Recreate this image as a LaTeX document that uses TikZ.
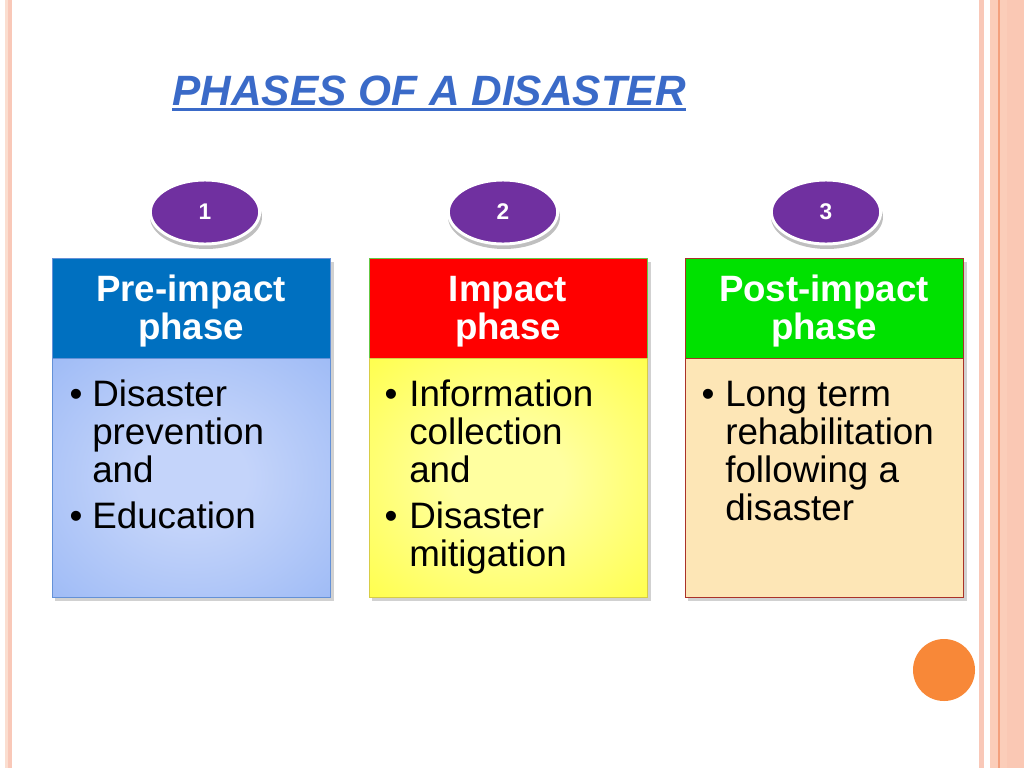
\documentclass[tikz,border=0pt]{standalone}
\usepackage{fontspec}
\setmainfont{Liberation Sans}
\usetikzlibrary{shapes.geometric}
\definecolor{titleblue}{RGB}{58,106,200}
\definecolor{hblue}{RGB}{0,112,192}
\definecolor{bblueborder}{RGB}{100,145,215}
\definecolor{bluein}{RGB}{196,212,250}
\definecolor{bluemid}{RGB}{160,188,246}
\definecolor{blueout}{RGB}{112,152,236}
\definecolor{hred}{RGB}{255,0,0}
\definecolor{greenborder}{RGB}{100,200,70}
\definecolor{yellowin}{RGB}{255,255,160}
\definecolor{yellowmid}{RGB}{255,255,80}
\definecolor{yellowout}{RGB}{246,240,25}
\definecolor{yborder}{RGB}{215,205,70}
\definecolor{hgreen}{RGB}{0,225,0}
\definecolor{darkred}{RGB}{170,50,40}
\definecolor{tan}{RGB}{253,230,182}
\definecolor{ovalpurple}{RGB}{112,48,160}
\definecolor{dotorange}{RGB}{248,136,56}
\definecolor{stripelight}{RGB}{251,222,208}
\definecolor{stripesalmon}{RGB}{249,200,184}
\definecolor{peach}{RGB}{251,205,185}
\definecolor{peachdark}{RGB}{243,160,125}
\definecolor{peach2}{RGB}{250,200,180}
\pgfdeclareradialshading{blueshade}{\pgfpoint{0bp}{0bp}}{color(0bp)=(bluein); color(10bp)=(bluein); color(35bp)=(bluemid); color(60bp)=(blueout); color(71bp)=(blueout)}
\pgfdeclareradialshading{yellowshade}{\pgfpoint{0bp}{0bp}}{color(0bp)=(yellowin); color(10bp)=(yellowin); color(35bp)=(yellowmid); color(60bp)=(yellowout); color(71bp)=(yellowout)}
\tikzset{
  header/.style={rectangle, anchor=north west, minimum width=208.5pt, minimum height=75pt, inner sep=0pt, line width=1pt},
  bodybox/.style={rectangle, anchor=north west, minimum width=208.5pt, minimum height=179.25pt, inner sep=0pt, line width=0.8pt},
  boxshadow/.style={fill=black, opacity=0.18},
  htext/.style={anchor=base, inner sep=0pt, text=white, font=\fontsize{27.5}{29}\selectfont\bfseries},
  btext/.style={anchor=base west, inner sep=0pt, text=black, font=\fontsize{27.6}{29}\selectfont},
  bullet/.style={anchor=base, inner sep=0pt, text=black, font=\fontsize{27.6}{29}\selectfont},
  oval/.style={ellipse, fill=ovalpurple, draw=white, line width=2.2pt, minimum width=82pt, minimum height=48pt, inner sep=0pt, text=white, font=\fontsize{17}{20}\selectfont\bfseries},
  ovalshadow/.style={ellipse, fill=black, opacity=0.25, minimum width=84pt, minimum height=48pt, inner sep=0pt}
}
\begin{document}
\begin{tikzpicture}[x=0.75pt,y=-0.75pt]
\useasboundingbox (0,0) rectangle (1024,768);
\fill[white] (0,0) rectangle (1024,768);
% side stripes
\fill[stripelight] (5,0) rectangle (8,768);
\fill[stripesalmon] (8,0) rectangle (12,768);
\fill[stripesalmon] (979,0) rectangle (984,768);
\fill[peach] (990,0) rectangle (1024,768);
\fill[peachdark] (997.5,0) rectangle (999.5,768);
\fill[peach2] (1007,0) rectangle (1024,768);
% orange dot
\node[circle, fill=dotorange, minimum size=46.5pt, inner sep=0pt] (dot) at (944,670) {};
% title
\node[anchor=base west, inner sep=0pt, text=titleblue, font=\fontsize{31.8}{34}\selectfont\bfseries\itshape] (title) at (172,105) {PHASES OF A DISASTER};
\draw[titleblue, line width=2.3pt] ([yshift=-3.4pt]title.base west) -- ([yshift=-3.4pt]title.base east);

% oval shadows
\node[ovalshadow] (s1) at (206,217) {};
\node[ovalshadow] (s2) at (504,217) {};
\node[ovalshadow] (s3) at (827,217) {};
\node[oval] (o1) at (205,212) {1};
\node[oval] (o2) at (503,212) {2};
\node[oval] (o3) at (826,212) {3};

% box shadows
\fill[boxshadow] (55,262) rectangle (334,601);
\fill[boxshadow] (372,262) rectangle (651,601);
\fill[boxshadow] (688,262) rectangle (967,601);

% box 1
\node[header, fill=hblue, draw=bblueborder] (h1) at (52,258) {};
\node[bodybox, shading=blueshade, draw=bblueborder] (b1) at (52,358) {};
% box 2
\node[header, fill=hred, draw=greenborder] (h2) at (369,258) {};
\node[bodybox, shading=yellowshade, draw=yborder] (b2) at (369,358) {};
% box 3
\node[header, fill=hgreen, draw=darkred] (h3) at (685,258) {};
\node[bodybox, fill=tan, draw=darkred] (b3) at (685,358) {};

% header texts
\node[htext] (h1a) at (191,301) {Pre-impact};
\node[htext] (h1b) at (191,339) {phase};
\node[htext] (h2a) at (508,301) {Impact};
\node[htext] (h2b) at (508,339) {phase};
\node[htext] (h3a) at (824,301) {Post-impact};
\node[htext] (h3b) at (824,339) {phase};

% body 1
\node[bullet] (p1a) at (76,406) {•};
\node[btext] (t1a) at (92,406) {Disaster};
\node[btext] (t1b) at (92,444) {prevention};
\node[btext] (t1c) at (92,482) {and};
\node[bullet] (p1b) at (76,528) {•};
\node[btext] (t1d) at (92,528) {Education};
% body 2
\node[bullet] (p2a) at (391,406) {•};
\node[btext] (t2a) at (409,406) {Information};
\node[btext] (t2b) at (409,444) {collection};
\node[btext] (t2c) at (409,482) {and};
\node[bullet] (p2b) at (391,528) {•};
\node[btext] (t2d) at (409,528) {Disaster};
\node[btext] (t2e) at (409,566) {mitigation};
% body 3
\node[bullet] (p3a) at (708,406) {•};
\node[btext] (t3a) at (725,406) {Long term};
\node[btext] (t3b) at (725,444) {rehabilitation};
\node[btext] (t3c) at (725,482) {following a};
\node[btext] (t3d) at (725,520) {disaster};
\end{tikzpicture}
\end{document}
